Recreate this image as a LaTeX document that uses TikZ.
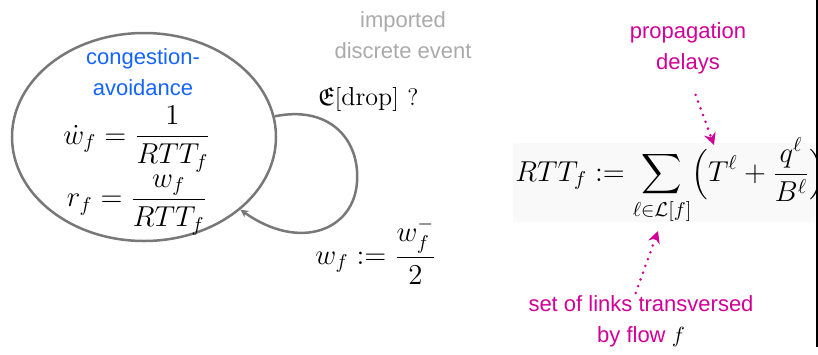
\documentclass[tikz,border=0pt]{standalone}
\usepackage{fontspec}
\usepackage{amsmath}
\usepackage{amssymb}
\usetikzlibrary{arrows.meta, shapes.geometric, positioning}
\newfontfamily\labelfont{Liberation Sans}
\definecolor{loopgray}{RGB}{120,120,120}
\definecolor{eventgray}{RGB}{170,170,170}
\definecolor{stateblue}{RGB}{20,100,255}
\definecolor{notemagenta}{RGB}{210,0,150}
\definecolor{formulabg}{RGB}{249,249,249}

\tikzset{
  tag/.style={font=\labelfont\fontsize{11}{15.5}\selectfont, align=center, inner sep=0pt},
  eqn/.style={font=\fontsize{14}{17}\selectfont, inner sep=0pt},
  note arrow/.style={draw=notemagenta, line width=1.4pt, line cap=round,
                     dash pattern=on 0pt off 3.6pt,
                     -{Stealth[length=6pt,width=6pt,fill=notemagenta]}},
}

\begin{document}
\begin{tikzpicture}[x=0.5pt, y=-0.5pt]
  \useasboundingbox (0,0) rectangle (818,354);

  % state with its two laws
  \node[draw=loopgray, line width=1.25pt, ellipse, minimum width=132pt,
        minimum height=104pt, inner sep=0pt] (cavoid) at (144,137) {};
  \node[tag, text=stateblue] (cname) at (143,72) {congestion-\\avoidance};
  \node[eqn] (wdot) at (137,139) {$\displaystyle \dot w_f = \frac{1}{RTT_f}$};
  \node[eqn] (rate) at (137,205) {$\displaystyle r_f = \frac{w_f}{RTT_f}$};

  % drop event, back into the same state
  \node[tag, text=eventgray] (event) at (403,35) {imported\\discrete event};
  \node[eqn, font=\fontsize{13}{15}\selectfont] (drop) at (368,99)
    {$\mathfrak{E}[\mathrm{drop}]\ ?$};
  \node[eqn] (reset) at (376,251) {$\displaystyle w_f := \frac{w_f^-}{2}$};
  \draw[loopgray, line width=1.25pt, -{Stealth[length=4pt,width=4pt]}]
    (cavoid.9) .. controls (330,105) and (360,140) .. (357,182)
    .. controls (354,230) and (300,252) .. (cavoid.-37);

  % round trip time
  \begin{scope}
    \clip (0,0) rectangle (815,354);
    \fill[formulabg] (513,143) rectangle (815,222);
    \node[eqn, anchor=west] (rtt) at (515,181)
      {$\displaystyle RTT_f := \sum_{\ell\in\mathcal{L}[f]} \Bigl(T^\ell + \frac{q^\ell}{B^\ell}\Bigr)$};
  \end{scope}
  \draw[line width=1pt] (817,0) -- (817,347);

  \node[tag, text=notemagenta] (prop) at (688,48) {propagation\\delays};
  \node[tag, text=notemagenta] (links) at (641,321)
    {set of links transversed\\by flow \textcolor{black}{$f$}};
  \coordinate (propHead) at (714,145);
  \coordinate (linksHead) at (658,231);
  \draw[note arrow, shorten <=11pt] (prop.south) -- (propHead);
  \draw[note arrow, shorten <=1pt] ([xshift=-3pt]links.north) -- (linksHead);
\end{tikzpicture}
\end{document}
